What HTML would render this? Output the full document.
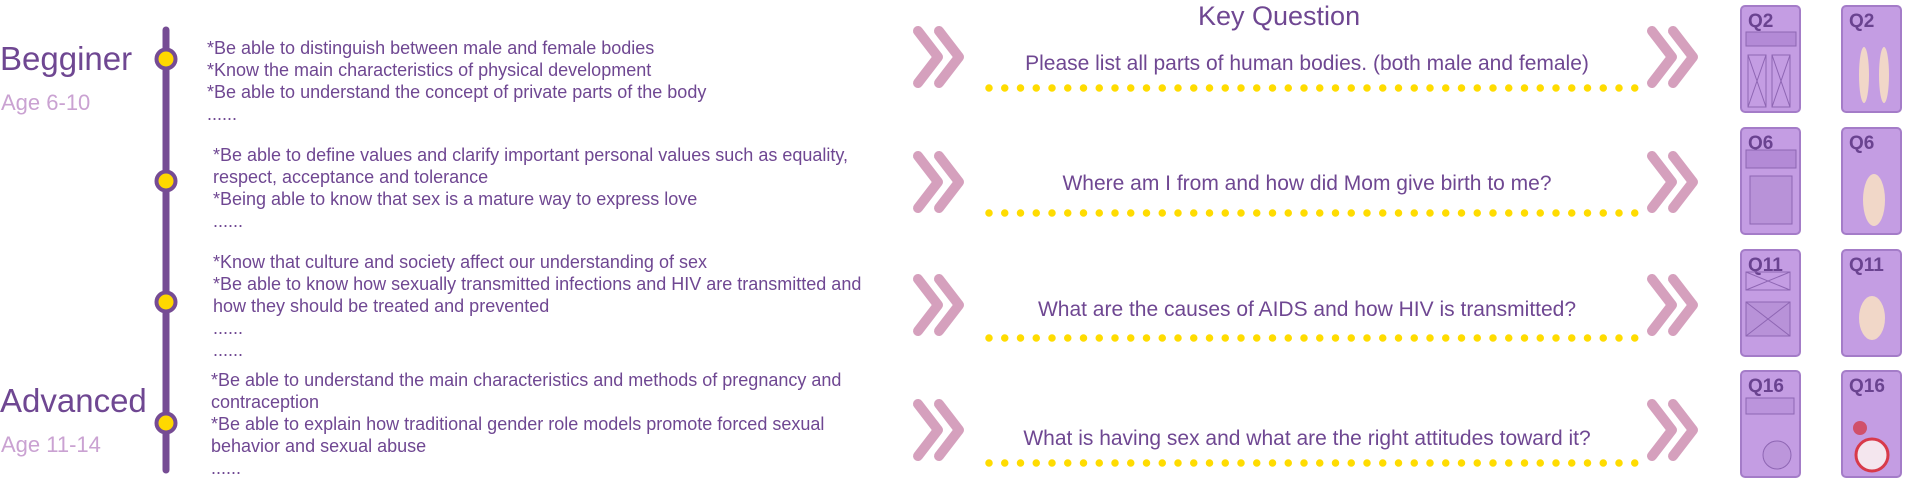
<!DOCTYPE html>
<html><head><meta charset="utf-8"><style>
html,body{margin:0;padding:0;background:#fff;}
body{width:1919px;height:502px;position:relative;overflow:hidden;font-family:"Liberation Sans",sans-serif;color:#6f4792;}
.t{position:absolute;white-space:nowrap;}
.lv{font-size:33px;color:#6f4792;}
.age{font-size:22px;color:#caa2d2;}
.b{position:absolute;font-size:18px;line-height:22px;white-space:nowrap;color:#6f4792;}
.q{position:absolute;font-size:21px;white-space:nowrap;text-align:center;width:760px;left:927px;color:#6f4792;}
.card{position:absolute;width:61px;height:108px;background:#c49de3;border:2px solid #a47cc8;border-radius:5px;box-sizing:border-box;}
.card b{position:absolute;left:6px;top:4px;font-size:19px;color:#6a4390;font-family:"Liberation Sans",sans-serif;}
</style></head><body>
<div class="t lv" style="left:0;top:40px">Begginer</div>
<div class="t age" style="left:1px;top:90px">Age 6-10</div>
<div class="t lv" style="left:0;top:382px">Advanced</div>
<div class="t age" style="left:1px;top:432px">Age 11-14</div>

<div class="b" style="left:207px;top:37px">*Be able to distinguish between male and female bodies<br>*Know the main characteristics of physical development<br>*Be able to understand the concept of private parts of the body<br>......</div>
<div class="b" style="left:213px;top:144px">*Be able to define values and clarify important personal values such as equality,<br>respect, acceptance and tolerance<br>*Being able to know that sex is a mature way to express love<br>......</div>
<div class="b" style="left:213px;top:251px">*Know that culture and society affect our understanding of sex<br>*Be able to know how sexually transmitted infections and HIV are transmitted and<br>how they should be treated and prevented<br>......<br>......</div>
<div class="b" style="left:211px;top:369px">*Be able to understand the main characteristics and methods of pregnancy and<br>contraception<br>*Be able to explain how traditional gender role models promote forced sexual<br>behavior and sexual abuse<br>......</div>

<div class="t" style="left:1198px;top:1px;font-size:27px;color:#6f4792">Key Question</div>
<div class="q" style="top:52px">Please list all parts of human bodies. (both male and female)</div>
<div class="q" style="top:172px">Where am I from and how did Mom give birth to me?</div>
<div class="q" style="top:298px">What are the causes of AIDS and how HIV is transmitted?</div>
<div class="q" style="top:427px">What is having sex and what are the right attitudes toward it?</div>

<svg width="1919" height="502" style="position:absolute;left:0;top:0">
<defs>
<g id="chev" fill="none" stroke="#d5a0bd" stroke-width="10" stroke-linecap="round" stroke-linejoin="round">
<polyline points="0,-26 20,0 0,26"/><polyline points="21,-26 41,0 21,26"/>
</g>
</defs>
<line x1="166" y1="30" x2="166" y2="470" stroke="#764c94" stroke-width="7" stroke-linecap="round"/>
<g fill="#ffd800" stroke="#764c94" stroke-width="4">
<circle cx="166" cy="59" r="9.5"/><circle cx="166" cy="181" r="9.5"/><circle cx="166" cy="302" r="9.5"/><circle cx="166" cy="423" r="9.5"/>
</g>
<g stroke="#ffdc00" stroke-width="7.5" stroke-linecap="round" stroke-dasharray="0 15.75">
<line x1="989" y1="88" x2="1637" y2="88"/>
<line x1="989" y1="213" x2="1637" y2="213"/>
<line x1="989" y1="338" x2="1637" y2="338"/>
<line x1="989" y1="463" x2="1637" y2="463"/>
</g>
<use href="#chev" x="918" y="57"/><use href="#chev" x="918" y="182"/><use href="#chev" x="918" y="305"/><use href="#chev" x="918" y="430"/>
<use href="#chev" x="1652" y="57"/><use href="#chev" x="1652" y="182"/><use href="#chev" x="1652" y="305"/><use href="#chev" x="1652" y="430"/>
</svg>

<div class="card" style="left:1740px;top:5px"><b>Q2</b></div>
<div class="card" style="left:1841px;top:5px"><b>Q2</b></div>
<div class="card" style="left:1740px;top:127px"><b>Q6</b></div>
<div class="card" style="left:1841px;top:127px"><b>Q6</b></div>
<div class="card" style="left:1740px;top:249px"><b>Q11</b></div>
<div class="card" style="left:1841px;top:249px"><b>Q11</b></div>
<div class="card" style="left:1740px;top:370px"><b>Q16</b></div>
<div class="card" style="left:1841px;top:370px"><b>Q16</b></div>

<svg width="1919" height="502" style="position:absolute;left:0;top:0" fill="none" stroke="#8e66b3" stroke-width="1">
<rect x="1746" y="32" width="50" height="14" fill="#b38ad6"/>
<rect x="1748" y="55" width="18" height="52"/><path d="M1748 55L1766 107M1766 55L1748 107"/>
<rect x="1772" y="55" width="18" height="52"/><path d="M1772 55L1790 107M1790 55L1772 107"/>
<rect x="1746" y="150" width="50" height="18" fill="#b38ad6"/>
<rect x="1750" y="176" width="42" height="48" fill="#b892d8"/>
<rect x="1746" y="272" width="44" height="18"/><path d="M1746 272L1790 290M1790 272L1746 290"/>
<rect x="1746" y="302" width="44" height="34" fill="#b892d8"/><path d="M1746 302L1790 336M1790 302L1746 336"/>
<rect x="1746" y="398" width="48" height="16" fill="#bb94dc"/>
<circle cx="1777" cy="455" r="14" fill="#bc96db"/>
<circle cx="1872" cy="455" r="16" fill="#f4e6ee" stroke="#d83a4a" stroke-width="3"/>
<circle cx="1860" cy="428" r="7" fill="#d0506a" stroke="none"/>
<ellipse cx="1864" cy="75" rx="5" ry="28" fill="#f1d7c8" stroke="none"/>
<ellipse cx="1884" cy="75" rx="5" ry="28" fill="#f1d7c8" stroke="none"/>
<ellipse cx="1874" cy="200" rx="11" ry="26" fill="#f1d7c8" stroke="none"/>
<ellipse cx="1872" cy="318" rx="13" ry="22" fill="#f1d7c8" stroke="none"/>
</svg>
</body></html>
